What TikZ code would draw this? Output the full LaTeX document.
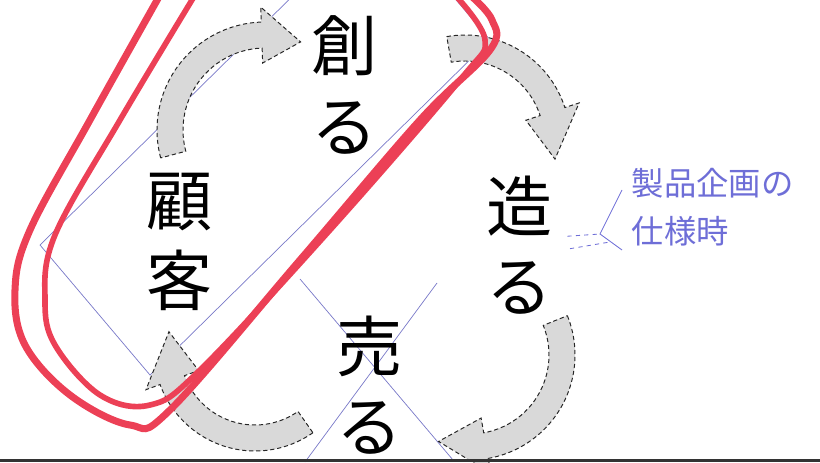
\documentclass[tikz,border=0pt]{standalone}
\usepackage{fontspec}
\newfontfamily\jpfont{Noto Sans CJK JP}
\usetikzlibrary{calc}
\definecolor{markred}{RGB}{236,64,86}
\definecolor{guideblue}{RGB}{120,120,200}
\definecolor{memoblue}{RGB}{110,110,215}

% curved cycle arrow: centre x, centre y, radius, tail angle, head-base angle, tip angle
\newcommand{\cyclearrow}[6]{%
	\pgfmathsetmacro\arOut{#3+13}\pgfmathsetmacro\arIn{#3-13}%
	\pgfmathsetmacro\hdOut{#3+28}\pgfmathsetmacro\hdIn{#3-28}%
	\filldraw[turn] (#1,#2) ++(#4:\arOut) arc[start angle=#4, end angle=#5, radius=\arOut]
	-- ($(#1,#2)+(#5:\hdOut)$) -- ($(#1,#2)+(#6:#3)$) -- ($(#1,#2)+(#5:\hdIn)$)
	-- ($(#1,#2)+(#5:\arIn)$) arc[start angle=#5, end angle=#4, radius=\arIn] -- cycle;}

\begin{document}
\begin{tikzpicture}[
	x=0.025cm, y=0.025cm,
	word/.style={font=\jpfont\fontsize{47}{57}\selectfont, align=center, inner sep=2pt},
	turn/.style={fill=black!15, draw=black!85, densely dashed, line width=0.7pt},
	guide/.style={draw=guideblue, line width=0.5pt},
	loop/.style={draw=markred, line width=5pt, line cap=round, line join=round},
	memo/.style={text=memoblue, font=\jpfont\fontsize{23}{34}\selectfont, align=left, inner sep=1pt}
	]
	
	\useasboundingbox (0,0) rectangle (820,462);
	\clip (0,0) rectangle (820,462);
	
	%--- thin guide lines ---
	\draw[guide] (380,552) -- (40,217) -- (150,87) -- (490,422) -- cycle;
	\draw[guide] (300,183) -- (453,2);
	\draw[guide] (437,179) -- (305,0);
	
	%--- cycle arrows ---
	\cyclearrow{265}{332}{95}{195}{92}{68}
	\cyclearrow{465}{322}{92}{100}{18}{-12}
	\cyclearrow{470}{107}{92}{22}{-80}{-110}
	\cyclearrow{255}{112}{88}{-55}{-160}{-192}
	
	%--- words ---
	\node[word] (tsukuru) at (345,377) {創\\る};
	\node[word] (zoukuru) at (520,217) {造\\る};
	\node[word] (uru) at (370,77) {売\\る};
	\node[word] (kokyaku) at (180,220) {顧\\客};
	
	%--- red marking ---
	\draw[loop] plot[smooth, tension=0.6] coordinates {(160,467) (90,342) (30,232) (15,172) (25,117) (70,67) (130,37) (170,52) (300,202) (420,342) (490,412) (492,442) (470,467)};
	\draw[loop, line width=4pt] plot[smooth, tension=0.6] coordinates {(195,467) (120,342) (55,227) (45,162) (55,117) (100,67) (150,57) (200,92) (330,232) (460,382) (485,422) (455,467)};
	
	%--- hand note ---
	\node[memo, anchor=west] (note) at (630,255) {製品企画の\\ 仕様時};
	\coordinate (brk) at (600,228);
	\draw[memoblue, line width=0.6pt] (622,272) -- (brk) -- (622,212);
	\draw[memoblue, dashed, line width=0.6pt, shorten <=8pt] (zoukuru.east) ++(0,8) -- (brk);
	\draw[memoblue, dashed, line width=0.6pt, shorten <=10pt] (zoukuru.east) ++(0,-6) -- ($(brk)+(10,-8)$);
	
	\fill[black!80] (0,0) rectangle (820,3);
	
\end{tikzpicture}
\end{document}
